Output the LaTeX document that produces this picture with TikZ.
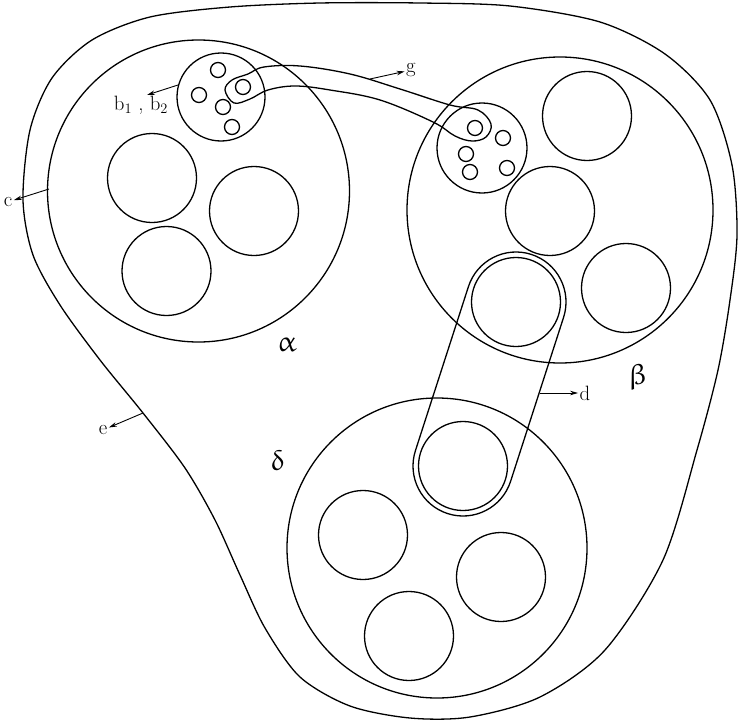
\documentclass[tikz,border=0pt]{standalone}
\usepackage{amsmath}
\usepackage{upgreek}
\usetikzlibrary{arrows.meta,calc}

\begin{document}
\begin{tikzpicture}[x=1pt,y=1pt,line width=1.3pt,
  arr/.style={line width=0.9pt,-{Stealth[length=8pt,width=4.5pt]}},
  lab/.style={font=\huge,inner sep=1pt},
  greek/.style={font=\fontsize{29}{30}\selectfont}]
\useasboundingbox (0,0) rectangle (749,-725);

% outer region e
\draw plot[smooth cycle,tension=0.5] coordinates {
  (23,-200) (30,-130) (52,-78) (92,-40) (150,-17) (230,-7) (320,-3)
  (420,-3) (510,-6) (600,-22) (665,-54) (710,-100) (732,-165) (737,-235)
  (730,-300) (718,-370) (697,-450) (663,-560) (605,-650) (540,-697)
  (470,-717) (410,-718) (350,-706) (300,-677) (265,-628) (240,-575)
  (215,-520) (185,-468) (143,-413) (100,-360) (60,-305) (33,-255)};

% the three cells
\coordinate (A) at (198.5,-191);
\coordinate (B) at (560,-210);
\coordinate (D) at (437,-548);
\draw (A) circle (151);
\draw (B) circle (153);
\draw (D) circle (150);

% small cells b and g
\coordinate (sb) at (221,-97);
\coordinate (sg) at (482,-148);
\draw (sb) circle (44);
\draw (sg) circle (45);

% tiny circles
\foreach \p in {(218,-70),(199,-95),(223,-107),(232,-127),(243,-87),
                (475,-128),(503,-138),(466,-154),(470,-172),(507,-168)}
  \draw \p circle (7.5);

% big circles
\foreach \p in {(152,-178),(254,-211),(166.5,-271),
                (587,-116),(550,-211),(626,-288),
                (363,-535),(501,-577),(409,-636)}
  \draw \p circle (44.5);

% tube d
\coordinate (tA) at (516,-302);
\coordinate (tB) at (463,-466);
\draw (tA) circle (44.5);
\draw (tB) circle (44.5);
\draw ($(tA)+(162.09:50)$) arc[start angle=162.09,end angle=-17.91,radius=50]
  -- ($(tB)+(-17.91:50)$) arc[start angle=-17.91,end angle=-197.91,radius=50]
  -- cycle;

% tube g
\draw plot[smooth cycle,tension=0.6] coordinates {
  (225,-90) (232,-80) (248,-74) (264,-67) (300,-66) (350,-74) (400,-89)
  (450,-105) (478,-110) (491,-124) (486,-137) (472,-141) (455,-136)
  (433,-122) (380,-100) (330,-90) (295,-86) (268,-90) (250,-99) (234,-103)};

% labels
\node[greek] (al) at (287,-345) {$\upalpha$};
\node[greek] (be) at (638,-377) {$\upbeta$};
\node[greek] (de) at (278,-460) {$\updelta$};
\node[lab] (c) at (8,-202) {c};
\node[lab] (e) at (103,-430) {e};
\node[lab] (g) at (411,-70) {g};
\node[lab] (d) at (585,-393) {d};
\node[lab] (bl) at (141,-105) {b$_1$ , b$_2$};

% arrows
\coordinate (cS) at (49,-189);
\coordinate (eS) at (143,-413);
\coordinate (gS) at (370,-79);
\coordinate (dS) at (540,-393);
\coordinate (bS) at (178,-85);
\coordinate (bE) at (147,-95);
\draw[arr] (cS) -- (c);
\draw[arr] (eS) -- (e);
\draw[arr] (gS) -- (g);
\draw[arr] (dS) -- (d);
\draw[arr] (bS) -- (bE);
\end{tikzpicture}
\end{document}
